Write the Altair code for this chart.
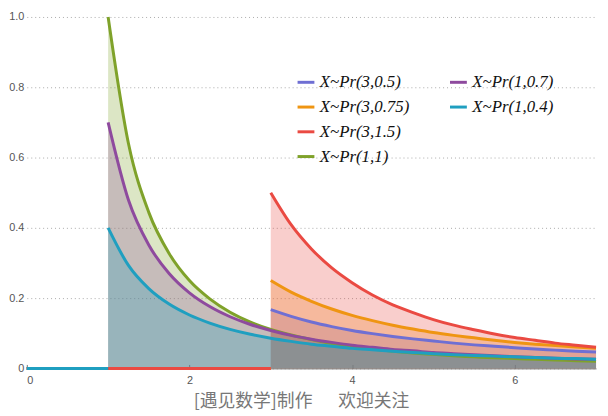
import altair as alt
import pandas as pd

# sample positions
x_k1 = [1, 1.25, 1.5, 1.75, 2, 2.25, 2.5, 2.75, 3, 3.25, 3.5, 3.75, 4, 4.25, 4.5,
        4.75, 5, 5.25, 5.5, 5.75, 6, 6.25, 6.5, 6.75, 7]
x_k3 = [3, 3.25, 3.5, 3.75, 4, 4.25, 4.5, 4.75, 5, 5.25, 5.5, 5.75, 6, 6.25, 6.5, 6.75, 7]

# values
y_3_05 = [0.167, 0.148, 0.132, 0.119, 0.108, 0.099, 0.091, 0.084, 0.078, 0.072, 0.067,
          0.063, 0.059, 0.055, 0.052, 0.049, 0.047]
y_3_075 = [0.250, 0.217, 0.191, 0.169, 0.151, 0.136, 0.123, 0.112, 0.102, 0.094, 0.087,
           0.080, 0.074, 0.069, 0.065, 0.061, 0.057]
y_3_15 = [0.500, 0.409, 0.340, 0.286, 0.244, 0.209, 0.181, 0.159, 0.139, 0.123, 0.110,
          0.098, 0.088, 0.080, 0.072, 0.066, 0.060]
y_1_1 = [1.000, 0.640, 0.444, 0.327, 0.250, 0.198, 0.160, 0.132, 0.111, 0.095, 0.082,
         0.071, 0.063, 0.055, 0.049, 0.044, 0.040, 0.036, 0.033, 0.030, 0.028, 0.026,
         0.024, 0.022, 0.020]
y_1_07 = [0.700, 0.479, 0.351, 0.270, 0.215, 0.176, 0.147, 0.125, 0.108, 0.094, 0.083,
          0.074, 0.066, 0.060, 0.054, 0.050, 0.045, 0.042, 0.039, 0.036, 0.033, 0.031,
          0.029, 0.027, 0.026]
y_1_04 = [0.400, 0.293, 0.227, 0.183, 0.152, 0.129, 0.111, 0.097, 0.086, 0.077, 0.069,
          0.063, 0.057, 0.053, 0.049, 0.045, 0.042, 0.039, 0.037, 0.035, 0.033, 0.031,
          0.029, 0.028, 0.026]

names = ["X~Pr(3,0.5)", "X~Pr(3,0.75)", "X~Pr(3,1.5)", "X~Pr(1,1)", "X~Pr(1,0.7)", "X~Pr(1,0.4)"]
starts = [3, 3, 3, 1, 1, 1]
colors = ["#6f6fd3", "#ef9512", "#ea4a42", "#7fa22a", "#8e4a9e", "#1f9fc0"]
series = [(x_k3, y_3_05), (x_k3, y_3_075), (x_k3, y_3_15),
          (x_k1, y_1_1), (x_k1, y_1_07), (x_k1, y_1_04)]

rows = []
for name, k, (xs, ys) in zip(names, starts, series):
    rows.append({"s": name, "seg": "base", "x": 0, "y": 0})
    rows.append({"s": name, "seg": "base", "x": k, "y": 0})
    for xv, yv in zip(xs, ys):
        rows.append({"s": name, "seg": "curve", "x": xv, "y": yv})
df = pd.DataFrame(rows)

# legend fills column by column: 4 rows x 2 columns, two blank slots
dom = names + [" ", "  "]
rng = colors + ["transparent", "transparent"]

color = alt.Color("s:N", scale=alt.Scale(domain=dom, range=rng),
                  legend=alt.Legend(title=None, orient="none", legendX=272, legendY=56,
                                    columns=2, symbolType="stroke", symbolStrokeWidth=3,
                                    symbolSize=289, labelFont="Liberation Serif",
                                    labelFontStyle="italic", labelFontSize=17,
                                    labelColor="#111", rowPadding=7, columnPadding=34,
                                    symbolOpacity=1))

xenc = alt.X("x:Q", scale=alt.Scale(domain=[0, 7], nice=False),
             axis=alt.Axis(title=None, values=[0, 2, 4, 6], grid=False,
                           domainColor="#777", tickColor="#777",
                           tickSize={"expr": "-4"}, labelPadding=10,
                           labelColor="#555", labelFontSize=11, labelFont="Liberation Sans"))
yenc = alt.Y("y:Q", scale=alt.Scale(domain=[0, 1], nice=False), stack=None,
             axis=alt.Axis(title=None, values=[0, 0.2, 0.4, 0.6, 0.8, 1.0],
                           labelExpr="datum.value == 0 ? '0' : format(datum.value, '.1f')",
                           domain=False, ticks=False, grid=True, gridColor="#aaa",
                           gridDash=[1, 3], labelColor="#555", labelFontSize=11,
                           labelFont="Liberation Sans", labelPadding=3))

area = alt.Chart(df).transform_filter("datum.seg == 'curve'").mark_area(
    interpolate="monotone", opacity=0.27).encode(x=xenc, y=yenc, color=color)
line = alt.Chart(df).mark_line(interpolate="monotone", strokeWidth=3).encode(
    x=xenc, y=yenc, color=color, detail="seg:N")

chart = alt.layer(area, line).properties(
    width=575, height=355,
    title=alt.TitleParams("[遇见数学]制作\u3000\u00a0\u00a0欢迎关注", orient="bottom",
                          fontSize=18, font="Noto Sans CJK SC", fontWeight="normal",
                          color="#777", offset=8, dx=-10),
    autosize=alt.AutoSizeParams(type="none"),
    padding={"left": 19, "top": 7, "right": 4, "bottom": 45},
).configure_view(stroke=None)

chart.save("out.html", embed_options={"renderer": "svg", "actions": False})
